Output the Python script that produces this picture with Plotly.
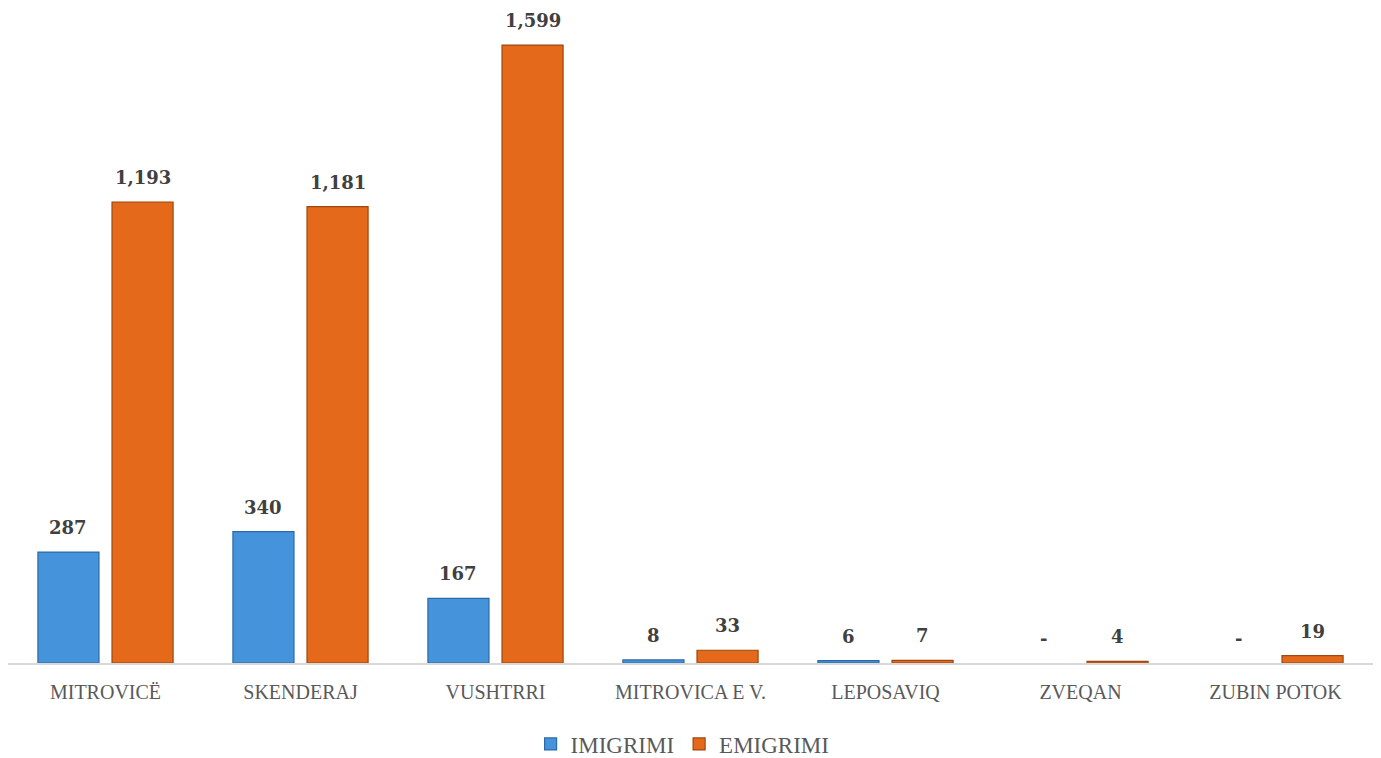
import plotly.graph_objects as go

categories = ["MITROVICË", "SKENDERAJ", "VUSHTRRI", "MITROVICA E V.", "LEPOSAVIQ", "ZVEQAN", "ZUBIN POTOK"]
imigrimi = [287, 340, 167, 8, 6, 0, 0]
emigrimi = [1193, 1181, 1599, 33, 7, 4, 19]
series = [("IMIGRIMI", imigrimi, "#4493DB", "#2C6AA6"),
          ("EMIGRIMI", emigrimi, "#E4691B", "#9E470E")]

def fmt(v):
    return "-" if v == 0 else f"{v:,}"

W, H = 1381, 758
ML, MR, MT, MB = 0, 16, 0, 103
BARGAP, GROUPGAP = 0.24, 0.176

fig = go.Figure()
for name, vals, col, edge in series:
    fig.add_trace(go.Bar(
        name=name, x=categories, y=vals,
        marker=dict(color=col, line=dict(color=edge, width=[0 if v == 0 else 1.2 for v in vals])),
    ))

# value labels placed above each bar
cat_px = (W - ML - MR) / len(categories)
slot = cat_px * (1 - BARGAP) / len(series)
for k, (name, vals, col, edge) in enumerate(series):
    shift = (k - (len(series) - 1) / 2) * slot
    for c, v in zip(categories, vals):
        fig.add_annotation(x=c, y=v, text=fmt(v), showarrow=False, xshift=shift,
                           yanchor="bottom", yshift=12,
                           font=dict(family="DejaVu Serif", size=18, color="#404040", weight="bold"))

fig.update_layout(
    width=W, height=H,
    margin=dict(l=ML, r=MR, t=MT, b=MB, autoexpand=False),
    paper_bgcolor="white", plot_bgcolor="white",
    barmode="group", bargap=BARGAP, bargroupgap=GROUPGAP,
    showlegend=True,
    legend=dict(orientation="h", x=(W - ML - MR) / 2 / W, xanchor="center",
                yref="container", y=0.029, yanchor="middle",
                font=dict(family="Liberation Serif", size=23, color="#595959"),
                itemwidth=30, traceorder="normal"),
    xaxis=dict(showline=True, linecolor="#D9D9D9", linewidth=2, ticks="", automargin=False,
               tickfont=dict(family="Liberation Serif", size=20, color="#595959"),
               ticklabelstandoff=10),
    yaxis=dict(range=[0, 1695], visible=False, showgrid=False, zeroline=False, automargin=False),
)

fig.write_html("out.html")
